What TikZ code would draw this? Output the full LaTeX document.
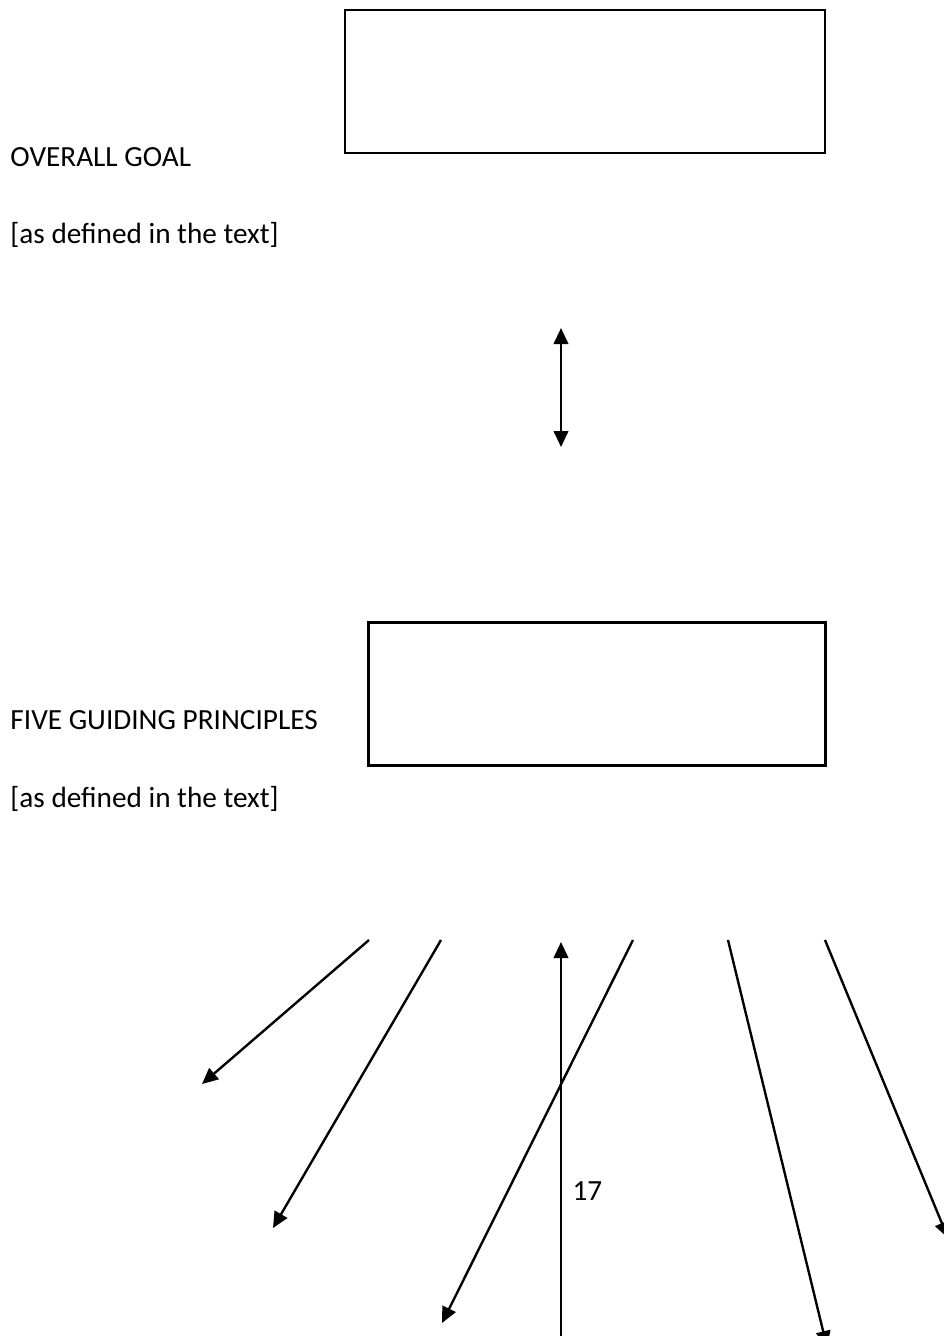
\documentclass[tikz,border=0pt]{standalone}
\usepackage{fontspec}
\setmainfont{Carlito}
\usetikzlibrary{arrows.meta}
\tikzset{
  box/.style={draw=black, line width=1pt, rectangle, inner sep=0pt},
  lbl/.style={anchor=base west, inner sep=0pt, font=\fontsize{11.7}{14}\selectfont},
  conn/.style={line width=0.95pt, -{Triangle[length=6.4pt,width=5.8pt]}},
  dconn/.style={line width=0.95pt, {Triangle[length=6.4pt,width=5.8pt]}-{Triangle[length=6.4pt,width=5.8pt]}}
}
\begin{document}
\begin{tikzpicture}[x=0.4pt,y=-0.4pt]
\useasboundingbox (0,0) rectangle (944,1336);
\clip (0,0) rectangle (944,1336);
% boxes
\node[box, minimum width=192pt, minimum height=57.2pt] (goal) at (585,81.5) {};
\node[box, minimum width=182.8pt, minimum height=57.2pt] (princ) at (597,694) {};
% labels
\node[lbl] (t1) at (10,166) {OVERALL GOAL};
\node[lbl] (t2) at (10,243) {[as defined in the text]};
\node[lbl] (t3) at (10,729) {FIVE GUIDING PRINCIPLES};
\node[lbl] (t4) at (10,807) {[as defined in the text]};
\node[lbl] (n17) at (572,1200) {17};
% double arrow
\coordinate (da) at (561,328);
\coordinate (db) at (561,447);
\draw[dconn] (da) -- (db);
% bottom arrows
\coordinate (s1) at (369,940); \coordinate (e1) at (202,1084);
\coordinate (s2) at (441,940); \coordinate (e2) at (273,1228);
\coordinate (s3) at (561,1345); \coordinate (e3) at (561,942);
\coordinate (s4) at (633,940); \coordinate (e4) at (442,1323);
\coordinate (s5) at (728,940); \coordinate (e5) at (827,1347);
\coordinate (s6) at (825,940); \coordinate (e6) at (948,1238);
\draw[conn] (s1) -- (e1);
\draw[conn] (s2) -- (e2);
\draw[conn] (s3) -- (e3);
\draw[conn] (s4) -- (e4);
\draw[conn] (s5) -- (e5);
\draw[conn] (s6) -- (e6);
\end{tikzpicture}
\end{document}
